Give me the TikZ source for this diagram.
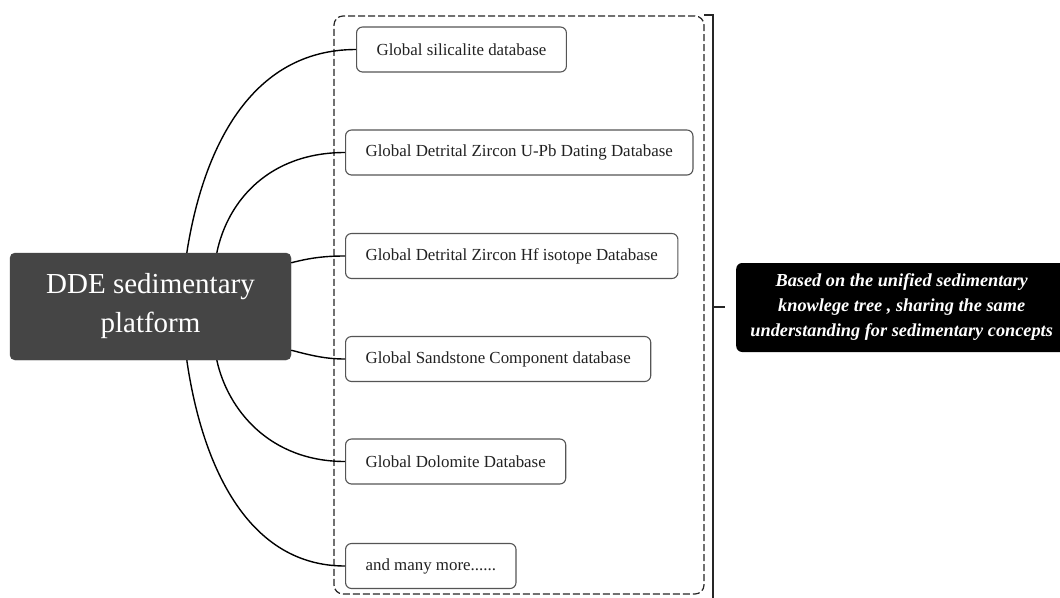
\documentclass[tikz,border=0pt]{standalone}
\usepackage{fontspec}
\setmainfont{Liberation Serif}
\usetikzlibrary{calc}
\definecolor{maingray}{HTML}{454545}
\definecolor{boxedge}{HTML}{555555}
\definecolor{txt}{HTML}{222222}
\tikzset{
  mainbox/.style={draw=maingray, fill=maingray, rounded corners=5pt, text=white,
    minimum width=281pt, minimum height=107pt, align=center, inner sep=0pt,
    font=\fontsize{29}{39}\selectfont},
  childbox/.style={draw=boxedge, line width=1.1pt, fill=white, rounded corners=6pt, text=txt,
    minimum height=45pt, inner xsep=20pt, anchor=west,
    font=\fontsize{16.9}{20}\selectfont},
  notebox/.style={fill=black, rounded corners=6pt, text=white, align=center,
    minimum width=331pt, minimum height=89pt, anchor=west, inner sep=0pt,
    font=\fontsize{18.3}{25}\selectfont\bfseries\itshape},
  groupbox/.style={draw=black!85, line width=1.2pt, dash pattern=on 7pt off 3pt,
    rounded corners=9pt, minimum width=370pt, minimum height=578pt, inner sep=0pt},
  link/.style={draw=black, line width=1.4pt},
  bracketline/.style={draw=black!85, line width=1.1pt},
}
\begin{document}
\begin{tikzpicture}[x=1pt,y=-1pt]
\useasboundingbox (0,0) rectangle (1060,597);
\fill[white] (0,0) rectangle (1060,597);
% group frame
\node[groupbox] (group) at (519,305) {};
\coordinate (btop) at (713,15);
\coordinate (bbot) at (713,600);
\coordinate (bmid) at (713,307);
\coordinate (tickend) at (725,307);
\draw[bracketline] (704,15) -- (btop) -- (bbot);
\draw[bracketline] (bmid) -- (tickend);
% main node
\node[mainbox] (main) at (150.5,306.5) {DDE sedimentary\\platform};
% children
\node[childbox] (c1) at (356,49.5) {Global silicalite database};
\node[childbox] (c2) at (345,152.5) {Global Detrital Zircon U-Pb Dating Database};
\node[childbox] (c3) at (345,256) {Global Detrital Zircon Hf isotope Database};
\node[childbox] (c4) at (345,359) {Global Sandstone Component database};
\node[childbox] (c5) at (345,461.5) {Global Dolomite Database};
\node[childbox] (c6) at (345,566) {and many more......};
% note
\node[notebox] (note) at (736,307.5) {Based on the unified sedimentary\\knowlege tree , sharing the same\\understanding for sedimentary concepts};
% connectors
\draw[link] ($(main.north west)+(177,0)$) .. controls ($(main.north west)+(193,-103)$) and ($(c1.west)+(-106,0)$) .. (c1.west);
\draw[link] ($(main.north west)+(207,0)$) .. controls ($(main.north west)+(218,-53)$) and ($(c2.west)+(-75,0)$) .. (c2.west);
\draw[link] ($(main.north east)+(0,10)$) .. controls ($(main.north east)+(19,5)$) and ($(c3.west)+(-20,0)$) .. (c3.west);
\draw[link] ($(main.south east)+(0,-10)$) .. controls ($(main.south east)+(19,-5)$) and ($(c4.west)+(-20,0)$) .. (c4.west);
\draw[link] ($(main.south west)+(207,0)$) .. controls ($(main.south west)+(218,50)$) and ($(c5.west)+(-75,0)$) .. (c5.west);
\draw[link] ($(main.south west)+(177,0)$) .. controls ($(main.south west)+(193,110)$) and ($(c6.west)+(-95,0)$) .. (c6.west);
\end{tikzpicture}
\end{document}
